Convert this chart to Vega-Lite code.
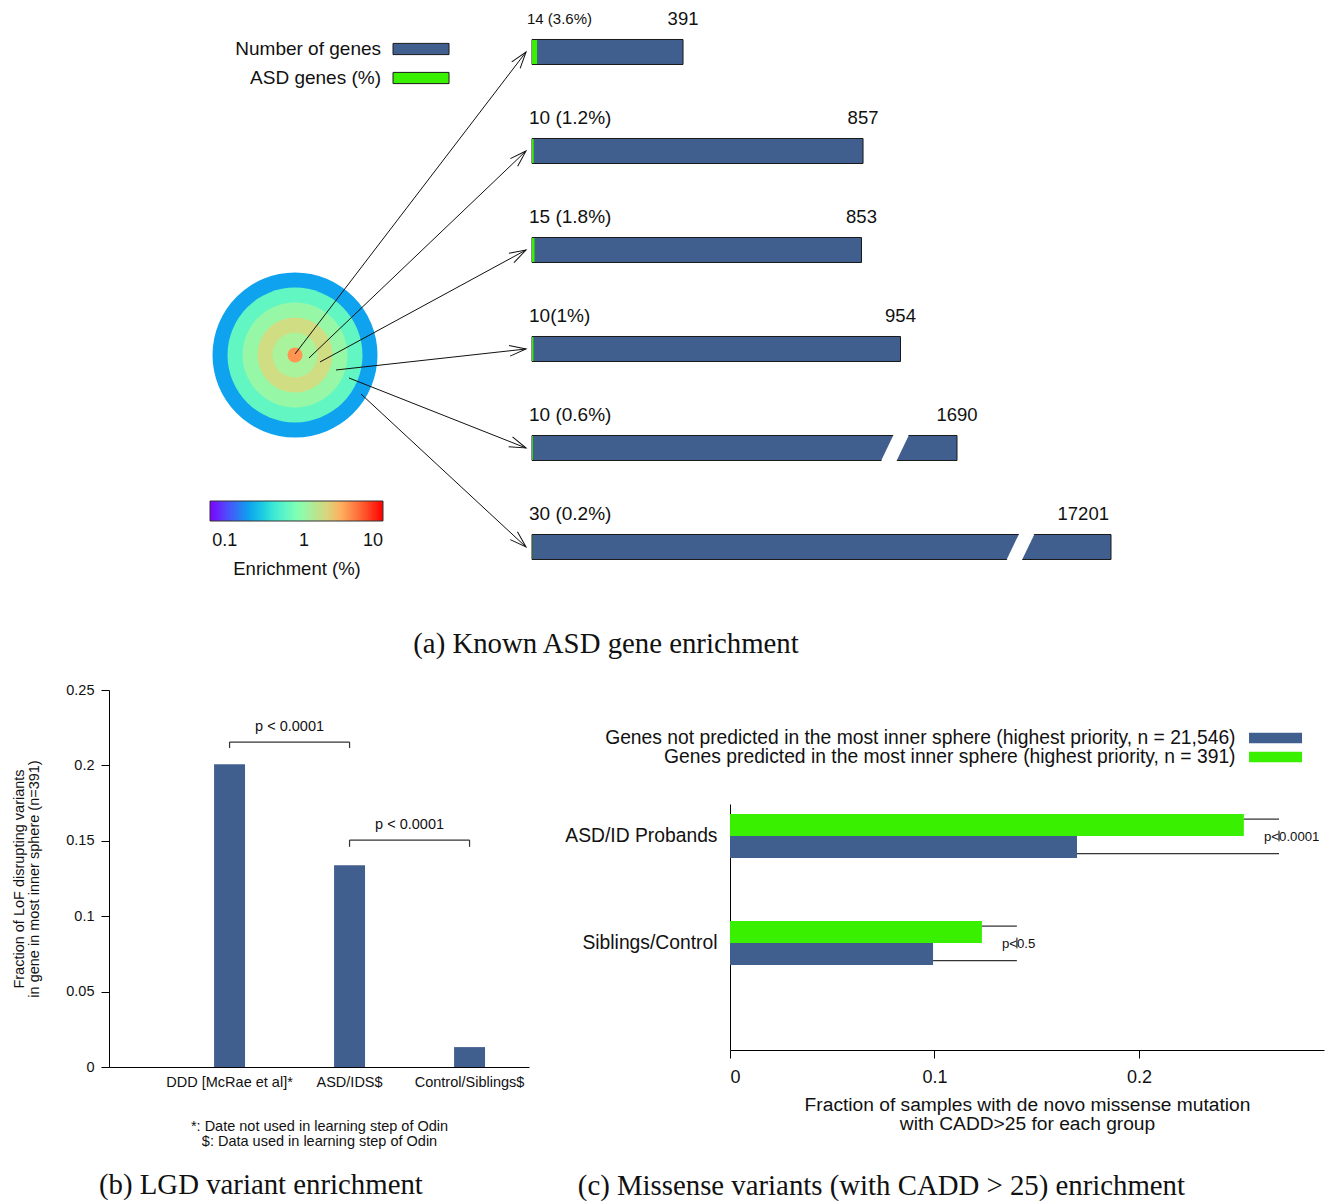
{
  "$schema": "https://vega.github.io/schema/vega-lite/v6.json",
  "padding": {"left": 11, "top": 0, "right": 0, "bottom": 0},
  "background": "white",
  "spacing": 23,
  "config": {
    "view": {"stroke": null},
    "font": "Liberation Sans",
    "axis": {"grid": false, "domainColor": "#000", "tickColor": "#000", "labelColor": "#111", "titleColor": "#111", "titleFontWeight": "normal", "labelFont": "Liberation Sans", "titleFont": "Liberation Sans"},
    "legend": {"labelFont": "Liberation Sans", "titleFont": "Liberation Sans", "titleFontWeight": "normal", "labelColor": "#111", "titleColor": "#111"},
    "title": {"font": "Liberation Serif", "fontWeight": "normal", "color": "#111"}
  },
  "datasets": {
    "spheres": [
      {"sphere": 6, "genes": 17201, "asd": 30, "pct": 0.2, "label": "30 (0.2%)", "x0": -442.7, "y0": 4.4545, "ax": -15.5},
      {"sphere": 5, "genes": 1690, "asd": 10, "pct": 0.6, "label": "10 (0.6%)", "x0": -473.7, "y0": 4.2929, "ax": -15.5},
      {"sphere": 4, "genes": 954, "asd": 10, "pct": 1.0, "label": "10(1%)", "x0": -507.4, "y0": 4.2121, "ax": -15.5},
      {"sphere": 3, "genes": 853, "asd": 15, "pct": 1.8, "label": "15 (1.8%)", "x0": -548.8, "y0": 4.1313, "ax": -15.5},
      {"sphere": 2, "genes": 857, "asd": 10, "pct": 1.2, "label": "10 (1.2%)", "x0": -577.3, "y0": 4.0909, "ax": -15.5},
      {"sphere": 1, "genes": 391, "asd": 14, "pct": 3.6, "label": "14 (3.6%)", "x0": -613.5, "y0": 4.0505, "ax": -15.5}
    ],
    "legA": [
      {"key": "genes", "name": "Number of genes", "ly": 0.9697},
      {"key": "asdLen", "name": "ASD genes (%)", "ly": 1.2626}
    ],
    "cbTicks": [{"enr": 0.1}, {"enr": 1}],
    "breaks": [
      {"sphere": 5, "xt": 978.8, "xb": 920.5},
      {"sphere": 6, "xt": 8841, "xb": 7330}
    ],
    "lgd": [
      {"group": "DDD [McRae et al]*", "frac": 0.2008},
      {"group": "ASD/IDS$", "frac": 0.1338},
      {"group": "Control/Siblings$", "frac": 0.0132}
    ],
    "lgdp": [
      {"a": "DDD [McRae et al]*", "b": "ASD/IDS$", "top": 0.2155, "foot": 0.2115, "ly": 0.2255, "p": "p < 0.0001"},
      {"a": "ASD/IDS$", "b": "Control/Siblings$", "top": 0.1505, "foot": 0.146, "ly": 0.1605, "p": "p < 0.0001"}
    ],
    "mis": [
      {"group": "ASD/ID Probands", "series": "Genes predicted in the most inner sphere (highest priority, n = 391)", "frac": 0.2513},
      {"group": "ASD/ID Probands", "series": "Genes not predicted in the most inner sphere (highest priority, n = 21,546)", "frac": 0.1697},
      {"group": "Siblings/Control", "series": "Genes predicted in the most inner sphere (highest priority, n = 391)", "frac": 0.1232},
      {"group": "Siblings/Control", "series": "Genes not predicted in the most inner sphere (highest priority, n = 21,546)", "frac": 0.0993}
    ],
    "misleg": [
      {"series": "Genes not predicted in the most inner sphere (highest priority, n = 21,546)"},
      {"series": "Genes predicted in the most inner sphere (highest priority, n = 391)"}
    ],
    "misp": [
      {"group": "ASD/ID Probands", "g": 0.2513, "b": 0.1697, "bx": 0.2685, "p": "p<0.0001"},
      {"group": "Siblings/Control", "g": 0.1232, "b": 0.0993, "bx": 0.1403, "p": "p<0.5"}
    ]
  },
  "vconcat": [
    {
      "width": 1225,
      "height": 600,
      "title": {"text": "(a) Known ASD gene enrichment", "orient": "bottom", "anchor": "middle", "frame": "group", "dx": -115.5, "offset": 30, "fontSize": 28.8},
      "data": {"name": "spheres"},
      "layer": [
        {
          "transform": [{"calculate": "datum.sphere - 0.5", "as": "ringRadius"}],
          "mark": {"type": "point", "shape": "circle", "filled": true, "opacity": 1, "strokeWidth": 0},
          "encoding": {
            "x": {"datum": -613.5, "type": "quantitative", "scale": {"domain": [-1095.0, 0, 954, 1690, 17201], "range": [0, 423, 791.5, 848, 1002], "nice": false, "zero": false, "padding": 0}, "axis": null},
            "y": {"datum": 4.0606, "type": "quantitative", "scale": {"domain": [0.47475, 6.5354], "reverse": true, "nice": false, "zero": false, "padding": 0}, "axis": null},
            "size": {"field": "ringRadius", "type": "quantitative", "legend": null, "scale": {"type": "pow", "exponent": 2, "domain": [0, 5.5], "range": [0, 27225], "zero": true, "nice": false}},
            "fill": {
              "field": "pct", "type": "quantitative",
              "scale": {"type": "log", "domain": [0.065, 10], "nice": false, "zero": false, "interpolate": "rgb",
                "range": ["#8000FF", "#4062FA", "#00B4EC", "#40ECD4", "#80FFB4", "#BFEC8E", "#FFB462", "#FF6232", "#FF0000"]},
              "legend": {"orient": "none", "legendX": 101, "legendY": 501, "direction": "horizontal", "gradientLength": 173, "gradientThickness": 20, "gradientStrokeColor": "#333", "gradientStrokeWidth": 1, "values": [0.1, 1, 10], "format": "~g", "labelFontSize": 18, "labelOffset": 11, "labelAlign": "center", "labelOverlap": false, "title": "Enrichment (%)", "titleOrient": "bottom", "titleAnchor": "middle", "titleFontSize": 18.5, "titlePadding": 10, "padding": 0}
            }
          }
        },
        {
          "data": {"name": "cbTicks"},
          "transform": [{"calculate": "-833.6 + (log(datum.enr) / LN10 + 1.1871) / 2.1871 * 447.8", "as": "cx"}],
          "mark": {"type": "tick", "orient": "vertical", "color": "#222", "thickness": 1.2, "size": 20},
          "encoding": {
            "x": {"field": "cx", "type": "quantitative"},
            "y": {"datum": 5.6364, "type": "quantitative"}
          }
        },
        {
          "mark": {"type": "rule", "color": "#111", "strokeWidth": 1},
          "encoding": {
            "x": {"field": "x0", "type": "quantitative"},
            "y": {"field": "y0", "type": "quantitative"},
            "x2": {"field": "ax"},
            "y2": {"field": "sphere"}
          }
        },
        {
          "transform": [{"calculate": "atan2((datum.sphere - datum.y0) * 99, (datum.ax - datum.x0) * 0.3863) * 180 / PI", "as": "ang"}],
          "mark": {"type": "point", "shape": "M-1,-0.32L0,0L-1,0.32", "filled": false, "stroke": "#111", "strokeWidth": 1, "size": 1100, "opacity": 1},
          "encoding": {
            "x": {"field": "ax", "type": "quantitative"},
            "y": {"field": "sphere", "type": "quantitative"},
            "angle": {"field": "ang", "type": "quantitative", "scale": null}
          }
        },
        {
          "transform": [{"calculate": "datum.pct * 3.624", "as": "asdLen"}, {"fold": ["genes", "asdLen"]}, {"filter": "datum.key == 'genes'"}],
          "mark": {"type": "bar", "orient": "horizontal", "size": 25, "stroke": "#1a1a1a", "strokeWidth": 1},
          "encoding": {
            "x": {"field": "value", "type": "quantitative", "stack": null},
            "y": {"field": "sphere", "type": "quantitative"},
            "color": {
              "field": "key", "type": "nominal",
              "scale": {"domain": ["genes", "asdLen"], "range": ["#405F8E", "#38F000"]},
              "legend": null
            }
          }
        },
        {
          "transform": [{"calculate": "datum.pct * 3.624", "as": "asdLen"}, {"fold": ["genes", "asdLen"]}, {"filter": "datum.key == 'asdLen'"}],
          "mark": {"type": "bar", "orient": "horizontal", "size": 24},
          "encoding": {
            "x": {"field": "value", "type": "quantitative", "stack": null},
            "y": {"field": "sphere", "type": "quantitative"},
            "color": {"field": "key", "type": "nominal", "legend": null}
          }
        },
        {
          "data": {"name": "breaks"},
          "mark": {"type": "rule", "color": "white", "strokeWidth": 14, "yOffset": -15.5, "y2Offset": 15.5},
          "encoding": {
            "x": {"field": "xt", "type": "quantitative"},
            "x2": {"field": "xb"},
            "y": {"field": "sphere", "type": "quantitative"},
            "y2": {"field": "sphere"}
          }
        },
        {
          "data": {"name": "legA"},
          "mark": {"type": "point", "shape": "M-1,-0.2H1V0.2H-1Z", "filled": true, "size": 3136, "stroke": "#1a1a1a", "strokeWidth": 1, "opacity": 1},
          "encoding": {
            "x": {"datum": -287.3, "type": "quantitative"},
            "y": {"field": "ly", "type": "quantitative"},
            "color": {"field": "key", "type": "nominal", "legend": null}
          }
        },
        {
          "data": {"name": "legA"},
          "mark": {"type": "text", "dx": -40, "fontSize": 19, "align": "right", "baseline": "middle", "color": "#111"},
          "encoding": {
            "x": {"datum": -287.3, "type": "quantitative"},
            "y": {"field": "ly", "type": "quantitative"},
            "text": {"field": "name", "type": "nominal"}
          }
        },
        {
          "transform": [{"filter": "datum.genes < 10000"}],
          "mark": {"type": "text", "dy": -33, "fontSize": 18.5, "align": "center", "baseline": "middle", "color": "#111"},
          "encoding": {
            "x": {"field": "genes", "type": "quantitative"},
            "y": {"field": "sphere", "type": "quantitative"},
            "text": {"field": "genes", "type": "quantitative", "format": "d"}
          }
        },
        {
          "transform": [{"filter": "datum.genes >= 10000"}],
          "mark": {"type": "text", "dy": -33, "dx": -2, "fontSize": 18.5, "align": "right", "baseline": "middle", "color": "#111"},
          "encoding": {
            "x": {"field": "genes", "type": "quantitative"},
            "y": {"field": "sphere", "type": "quantitative"},
            "text": {"field": "genes", "type": "quantitative", "format": "d"}
          }
        },
        {
          "transform": [{"filter": "datum.sphere != 1"}, {"calculate": "0", "as": "start"}],
          "mark": {"type": "text", "dy": -33, "dx": -3, "fontSize": 19, "align": "left", "baseline": "middle", "color": "#111"},
          "encoding": {
            "x": {"field": "start", "type": "quantitative"},
            "y": {"field": "sphere", "type": "quantitative"},
            "text": {"field": "label", "type": "nominal"}
          }
        },
        {
          "transform": [{"filter": "datum.sphere == 1"}, {"calculate": "0", "as": "start"}],
          "mark": {"type": "text", "dy": -33, "dx": -5, "fontSize": 15, "align": "left", "baseline": "middle", "color": "#111"},
          "encoding": {
            "x": {"field": "start", "type": "quantitative"},
            "y": {"field": "sphere", "type": "quantitative"},
            "text": {"field": "label", "type": "nominal"}
          }
        }
      ]
    },
    {
      "spacing": 35,
      "hconcat": [
        {
          "width": 420,
          "height": 377,
          "title": {"text": "(b) LGD variant enrichment", "orient": "bottom", "anchor": "middle", "frame": "bounds", "dx": -9.5, "offset": 23, "fontSize": 28.8},
          "layer": [
            {
              "data": {"name": "lgd"},
              "mark": {"type": "bar", "color": "#405F8E"},
              "encoding": {
                "x": {"field": "group", "type": "nominal", "sort": null,
                  "scale": {"domain": ["DDD [McRae et al]*", "ASD/IDS$", "Control/Siblings$"], "paddingInner": 0.742, "paddingOuter": 0.621, "align": 0.705},
                  "axis": {"title": ["*: Date not used in learning step of Odin", "$: Data used in learning step of Odin"], "labelAngle": 0, "ticks": false, "labelFontSize": 14.5, "labelPadding": 8, "titleFontSize": 14.5, "titleLineHeight": 15, "titlePadding": 31, "labelLimit": 300}},
                "y": {"field": "frac", "type": "quantitative", "scale": {"domain": [0, 0.25], "nice": false},
                  "axis": {"values": [0, 0.05, 0.1, 0.15, 0.2, 0.25], "format": "~g", "tickSize": 8, "labelPadding": 7, "labelFontSize": 14.5, "title": ["Fraction of LoF disrupting variants", "in gene in most inner sphere (n=391)"], "titleFontSize": 14.5, "titleLineHeight": 15, "titlePadding": 24}}
              }
            },
            {
              "data": {"name": "lgdp"},
              "mark": {"type": "rule", "color": "#333", "strokeWidth": 1.2},
              "encoding": {
                "x": {"field": "a", "type": "nominal"},
                "x2": {"field": "b"},
                "y": {"field": "top", "type": "quantitative"}
              }
            },
            {
              "data": {"name": "lgdp"},
              "transform": [{"fold": ["a", "b"]}],
              "mark": {"type": "rule", "color": "#333", "strokeWidth": 1.2},
              "encoding": {
                "x": {"field": "value", "type": "nominal"},
                "y": {"field": "top", "type": "quantitative"},
                "y2": {"field": "foot"}
              }
            },
            {
              "data": {"name": "lgdp"},
              "mark": {"type": "text", "dx": 60, "fontSize": 14.5, "baseline": "middle", "align": "center", "color": "#111"},
              "encoding": {
                "x": {"field": "a", "type": "nominal"},
                "y": {"field": "ly", "type": "quantitative"},
                "text": {"field": "p", "type": "nominal"}
              }
            }
          ]
        },
        {
          "spacing": 0,
          "vconcat": [
            {
              "width": 594,
              "height": 114,
              "data": {"name": "misleg"},
              "layer": [
                {
                  "mark": {"type": "point", "shape": "M-1,-0.2H1V0.2H-1Z", "filled": true, "size": 2809, "strokeWidth": 0, "opacity": 1},
                  "encoding": {
                    "x": {"datum": 0.2668, "type": "quantitative", "scale": {"domain": [0, 0.2905], "nice": false}, "axis": null},
                    "y": {"field": "series", "type": "nominal", "sort": null, "axis": null,
                      "scale": {"type": "point", "domain": ["Genes not predicted in the most inner sphere (highest priority, n = 21,546)", "Genes predicted in the most inner sphere (highest priority, n = 391)"], "range": [48, 67], "padding": 0}},
                    "color": {"field": "series", "type": "nominal", "legend": null,
                      "scale": {"domain": ["Genes not predicted in the most inner sphere (highest priority, n = 21,546)", "Genes predicted in the most inner sphere (highest priority, n = 391)"], "range": ["#405F8E", "#66FF33"]}}
                  }
                },
                {
                  "mark": {"type": "text", "dx": -40, "align": "right", "baseline": "middle", "fontSize": 19.3, "color": "#111"},
                  "encoding": {
                    "x": {"datum": 0.2668, "type": "quantitative"},
                    "y": {"field": "series", "type": "nominal", "sort": null},
                    "text": {"field": "series", "type": "nominal"}
                  }
                }
              ]
            },
            {
              "width": 594,
              "height": 246,
              "title": {"text": "(c) Missense variants (with CADD > 25) enrichment", "orient": "bottom", "anchor": "middle", "frame": "bounds", "dx": -63, "offset": 39, "fontSize": 28.8},
              "layer": [
                {
                  "data": {"name": "mis"},
                  "mark": {"type": "bar"},
                  "encoding": {
                    "y": {"field": "group", "type": "nominal",
                      "scale": {"domain": ["ASD/ID Probands", "Siblings/Control"], "paddingInner": 0.5888, "paddingOuter": 0.444, "align": 0.105},
                      "axis": {"title": null, "ticks": false, "labelPadding": 13, "labelFontSize": 19.3, "labelLimit": 300}},
                    "yOffset": {"field": "series", "type": "nominal",
                      "scale": {"domain": ["Genes predicted in the most inner sphere (highest priority, n = 391)", "Genes not predicted in the most inner sphere (highest priority, n = 21,546)"], "paddingInner": 0, "paddingOuter": 0}},
                    "x": {"field": "frac", "type": "quantitative", "scale": {"domain": [0, 0.2905], "nice": false},
                      "axis": {"values": [0, 0.1, 0.2], "format": "~g", "tickSize": 8, "labelPadding": 10, "labelFontSize": 18, "title": ["Fraction of samples with de novo missense mutation", "with CADD>25 for each group"], "titleFontSize": 19.2, "titleLineHeight": 19, "titlePadding": 9}},
                    "color": {"field": "series", "type": "nominal", "legend": null,
                      "scale": {"domain": ["Genes not predicted in the most inner sphere (highest priority, n = 21,546)", "Genes predicted in the most inner sphere (highest priority, n = 391)"], "range": ["#405F8E", "#66FF33"]}}
                  }
                },
                {
                  "data": {"name": "misp"},
                  "mark": {"type": "rule", "color": "#333", "strokeWidth": 1.2},
                  "encoding": {
                    "x": {"field": "g", "type": "quantitative"},
                    "x2": {"field": "bx"},
                    "y": {"field": "group", "type": "nominal", "bandPosition": 0.115}
                  }
                },
                {
                  "data": {"name": "misp"},
                  "mark": {"type": "rule", "color": "#333", "strokeWidth": 1.2},
                  "encoding": {
                    "x": {"field": "b", "type": "quantitative"},
                    "x2": {"field": "bx"},
                    "y": {"field": "group", "type": "nominal", "bandPosition": 0.9}
                  }
                },
                {
                  "data": {"name": "misp"},
                  "mark": {"type": "tick", "orient": "vertical", "color": "#333", "thickness": 1.2, "size": 11},
                  "encoding": {
                    "x": {"field": "bx", "type": "quantitative"},
                    "y": {"field": "group", "type": "nominal", "bandPosition": 0.2395}
                  }
                },
                {
                  "data": {"name": "misp"},
                  "mark": {"type": "tick", "orient": "vertical", "color": "#333", "thickness": 1.2, "size": 9.6},
                  "encoding": {
                    "x": {"field": "bx", "type": "quantitative"},
                    "y": {"field": "group", "type": "nominal", "bandPosition": 0.791}
                  }
                },
                {
                  "data": {"name": "misp"},
                  "mark": {"type": "text", "dx": -15, "align": "left", "baseline": "middle", "fontSize": 13.2, "color": "#111"},
                  "encoding": {
                    "x": {"field": "bx", "type": "quantitative"},
                    "y": {"field": "group", "type": "nominal", "bandPosition": 0.52},
                    "text": {"field": "p", "type": "nominal"}
                  }
                }
              ]
            }
          ]
        }
      ]
    }
  ]
}
